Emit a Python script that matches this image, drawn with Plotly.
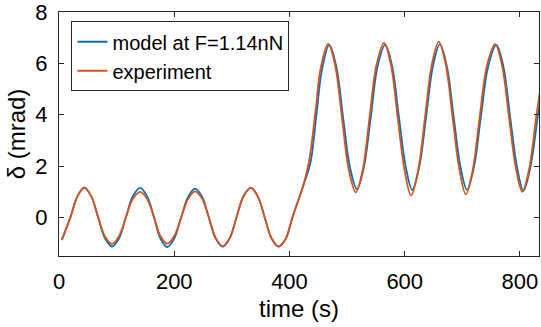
import plotly.graph_objects as go

# time (s) and delta (mrad)
t_model = [5, 20, 32, 44, 56, 68, 80, 92,
           104, 116, 128, 141, 153, 165, 176, 188,
           200, 212, 224, 236, 248, 260, 272, 284,
           296, 308, 320, 333, 345, 357, 369, 381,
           393, 405, 415, 424, 436, 447, 456, 469,
           481, 493, 505, 517, 529, 541, 553, 566,
           578, 590, 602, 613, 625, 637, 649, 661,
           673, 685, 697, 708, 720, 732, 745, 759,
           771, 783, 795, 806, 818, 830, 835]
model = [-0.88, 0.02, 0.82, 1.15, 0.82, 0.0, -0.82, -1.13,
         -0.82, 0.0, 0.82, 1.15, 0.82, 0.0, -0.82, -1.15,
         -0.82, 0.0, 0.8, 1.12, 0.82, 0.0, -0.82, -1.13,
         -0.82, 0.0, 0.82, 1.15, 0.82, 0.0, -0.82, -1.13,
         -0.85, 0.0, 0.65, 1.25, 2.1, 4.05, 5.7, 6.72,
         5.9, 3.9, 1.95, 1.1, 1.95, 3.9, 5.9, 6.72,
         5.9, 3.9, 1.95, 1.07, 1.95, 3.9, 5.9, 6.74,
         5.9, 3.9, 1.95, 1.08, 1.95, 3.9, 5.9, 6.72,
         5.9, 3.9, 1.95, 1.05, 1.95, 3.8, 4.65]

t_exp = [5, 20, 32, 44, 56, 68, 80, 92,
         104, 116, 128, 141, 153, 165, 176, 188,
         200, 212, 224, 236, 248, 260, 272, 284,
         296, 308, 320, 333, 345, 357, 369, 381,
         393, 405, 415, 424, 434, 445, 454, 467,
         479, 491, 503, 515, 527, 539, 551, 564,
         576, 588, 600, 611, 623, 635, 647, 659,
         671, 683, 695, 706, 718, 730, 743, 757,
         769, 781, 793, 804, 816, 828, 835]
experiment = [-0.85, 0.02, 0.82, 1.17, 0.82, 0.0, -0.75, -1.03,
              -0.73, 0.0, 0.72, 1.0, 0.72, 0.0, -0.72, -1.02,
              -0.72, 0.0, 0.72, 1.02, 0.75, 0.0, -0.8, -1.13,
              -0.82, 0.0, 0.82, 1.15, 0.82, 0.0, -0.82, -1.13,
              -0.85, 0.0, 0.65, 1.25, 2.2, 4.1, 5.8, 6.76,
              5.95, 3.9, 1.85, 0.98, 1.85, 3.9, 5.95, 6.8,
              5.95, 3.85, 1.8, 0.86, 1.8, 3.85, 5.95, 6.85,
              5.98, 3.9, 1.85, 0.9, 1.85, 3.9, 5.95, 6.75,
              5.9, 3.9, 1.9, 1.0, 1.9, 3.9, 4.96]

x_ticks = [0, 200, 400, 600, 800]
y_ticks = [0, 2, 4, 6, 8]

FONT = "Liberation Sans, Arial, Helvetica, sans-serif"
AX = "#262626"

fig = go.Figure()
fig.add_trace(go.Scatter(x=t_model, y=model, mode="lines", name="model at F=1.14nN",
                         line=dict(color="#0072BD", width=1.8, shape="spline", smoothing=1)))
fig.add_trace(go.Scatter(x=t_exp, y=experiment, mode="lines", name="experiment",
                         line=dict(color="#D95319", width=1.8, shape="spline", smoothing=1)))

axis_common = dict(showline=True, linecolor=AX, linewidth=1, mirror="ticks",
                   ticks="inside", ticklen=5, tickwidth=1, tickcolor=AX,
                   showgrid=False, zeroline=False, automargin=False,
                   ticklabeloverflow="allow",
                   tickfont=dict(family=FONT, size=22, color="#000000"))

fig.update_xaxes(range=[0, 833], tickvals=x_ticks, ticktext=[str(v) for v in x_ticks],
                 ticklabelstandoff=6,
                 title=dict(text="time (s)", font=dict(family=FONT, size=24, color="#000000"), standoff=6),
                 **axis_common)
fig.update_yaxes(range=[-1.5, 8.002], tickvals=y_ticks, ticktext=[str(v) for v in y_ticks],
                 ticklabelstandoff=6,
                 title=dict(text="δ (mrad)", font=dict(family=FONT, size=24, color="#000000"), standoff=2),
                 **axis_common)

fig.update_layout(
    width=541, height=327,
    margin=dict(l=59, r=2, t=12, b=71),
    paper_bgcolor="white", plot_bgcolor="white",
    showlegend=True,
    legend=dict(x=0.026, y=0.962, xanchor="left", yanchor="top",
                bgcolor="white", bordercolor=AX, borderwidth=1,
                font=dict(family=FONT, size=20, color="#000000"),
                tracegroupgap=0),
)

fig.write_html("out.html", config={"displayModeBar": False},
               post_script="document.body.style.margin='0';")
